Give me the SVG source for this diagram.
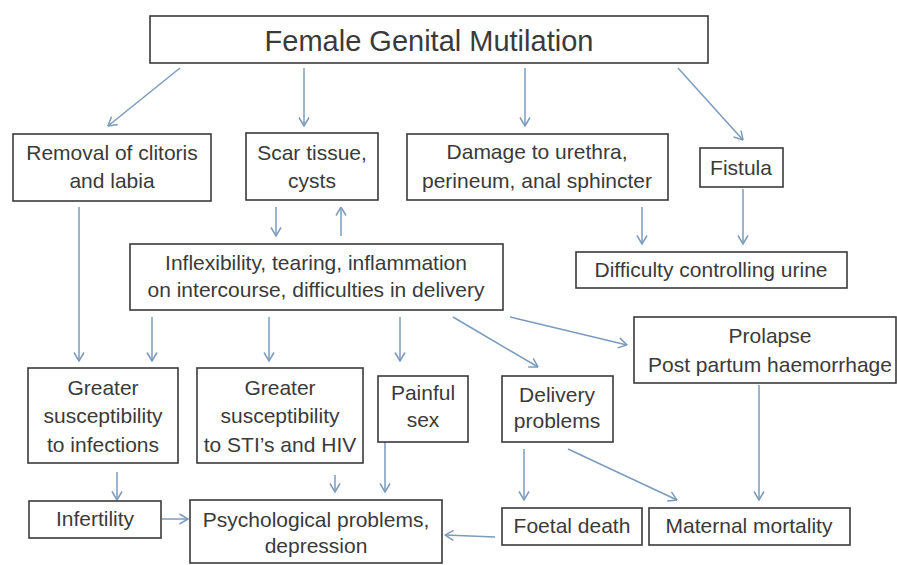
<svg xmlns="http://www.w3.org/2000/svg" width="897" height="565" viewBox="0 0 897 565">
<style>
.box{fill:#fff;stroke:#3a3a3a;stroke-width:1.6}
.t{font-family:"Liberation Sans",Arial,sans-serif;font-size:21px;fill:#3a3a3a;text-anchor:middle}
.title{font-size:29px}
.c{stroke:#7b9bbd;stroke-width:1.5;fill:none;marker-end:url(#ah)}
</style>
<defs>
<marker id="ah" viewBox="0 0 10 12" refX="9.5" refY="6" markerWidth="10" markerHeight="12" markerUnits="userSpaceOnUse" orient="auto">
<path d="M1,1 L9.5,6 L1,11" fill="none" stroke="#7b9bbd" stroke-width="1.5"/>
</marker>
</defs>
<rect width="897" height="565" fill="#fff"/>
<g id="connectors">
<line class="c" x1="180" y1="68" x2="108" y2="126"/>
<line class="c" x1="304" y1="68" x2="304" y2="126"/>
<line class="c" x1="525" y1="68" x2="525" y2="126"/>
<line class="c" x1="678" y1="68" x2="743" y2="140"/>
<line class="c" x1="276" y1="207" x2="276" y2="236"/>
<line class="c" x1="341" y1="236" x2="341" y2="207"/>
<line class="c" x1="642" y1="207" x2="642" y2="244"/>
<line class="c" x1="743" y1="189" x2="743" y2="244"/>
<line class="c" x1="79" y1="207" x2="79" y2="361"/>
<line class="c" x1="152" y1="317" x2="152" y2="361"/>
<line class="c" x1="269" y1="317" x2="269" y2="361"/>
<line class="c" x1="400" y1="317" x2="400" y2="361"/>
<line class="c" x1="510" y1="317" x2="627" y2="345"/>
<line class="c" x1="453" y1="317" x2="538" y2="367"/>
<line class="c" x1="117" y1="472" x2="117" y2="500"/>
<line class="c" x1="162" y1="519" x2="188" y2="519"/>
<line class="c" x1="335" y1="475" x2="335" y2="492"/>
<line class="c" x1="385" y1="442" x2="385" y2="492"/>
<line class="c" x1="495" y1="537" x2="445" y2="535"/>
<line class="c" x1="524" y1="449" x2="524" y2="500"/>
<line class="c" x1="568" y1="449" x2="677" y2="500"/>
<line class="c" x1="759" y1="385" x2="759" y2="500"/>
</g>
<g id="title"><rect class="box" x="150" y="16" width="558" height="47"/><text class="t title" x="429" y="51">Female Genital Mutilation</text></g>
<g id="removal"><rect class="box" x="13" y="134" width="198" height="67"/><text class="t" x="112" y="160">Removal of clitoris</text><text class="t" x="112" y="188">and labia</text></g>
<g id="scar"><rect class="box" x="246" y="133" width="132" height="67"/><text class="t" x="312" y="160">Scar tissue,</text><text class="t" x="312" y="188">cysts</text></g>
<g id="damage"><rect class="box" x="407" y="134" width="261" height="66"/><text class="t" x="537" y="159">Damage to urethra,</text><text class="t" x="537" y="188">perineum, anal sphincter</text></g>
<g id="fistula"><rect class="box" x="700" y="148" width="83" height="39"/><text class="t" x="741" y="175">Fistula</text></g>
<g id="difficulty"><rect class="box" x="576" y="252" width="271" height="36"/><text class="t" x="711" y="277">Difficulty controlling urine</text></g>
<g id="inflexibility"><rect class="box" x="130" y="244" width="373" height="66"/><text class="t" x="316" y="270">Inflexibility, tearing, inflammation</text><text class="t" x="316" y="297">on intercourse, difficulties in delivery</text></g>
<g id="prolapse"><rect class="box" x="634" y="317" width="262" height="66"/><text class="t" x="770" y="343">Prolapse</text><text class="t" x="770" y="372">Post partum haemorrhage</text></g>
<g id="infections"><rect class="box" x="28" y="368" width="150" height="95"/><text class="t" x="103" y="395">Greater</text><text class="t" x="103" y="423">susceptibility</text><text class="t" x="103" y="452">to infections</text></g>
<g id="sti"><rect class="box" x="197" y="368" width="166" height="95"/><text class="t" x="280" y="395">Greater</text><text class="t" x="280" y="423">susceptibility</text><text class="t" x="280" y="452">to STI’s and HIV</text></g>
<g id="painful"><rect class="box" x="378" y="376" width="90" height="66"/><text class="t" x="423" y="400">Painful</text><text class="t" x="423" y="427">sex</text></g>
<g id="delivery"><rect class="box" x="502" y="376" width="111" height="66"/><text class="t" x="557" y="402">Delivery</text><text class="t" x="557" y="428">problems</text></g>
<g id="infertility"><rect class="box" x="29" y="501" width="132" height="37"/><text class="t" x="95" y="526">Infertility</text></g>
<g id="psych"><rect class="box" x="190" y="500" width="252" height="63"/><text class="t" x="316" y="527">Psychological problems,</text><text class="t" x="316" y="553">depression</text></g>
<g id="foetal"><rect class="box" x="502" y="508" width="140" height="37"/><text class="t" x="572" y="533">Foetal death</text></g>
<g id="maternal"><rect class="box" x="649" y="508" width="201" height="37"/><text class="t" x="749" y="533">Maternal mortality</text></g>
</svg>
